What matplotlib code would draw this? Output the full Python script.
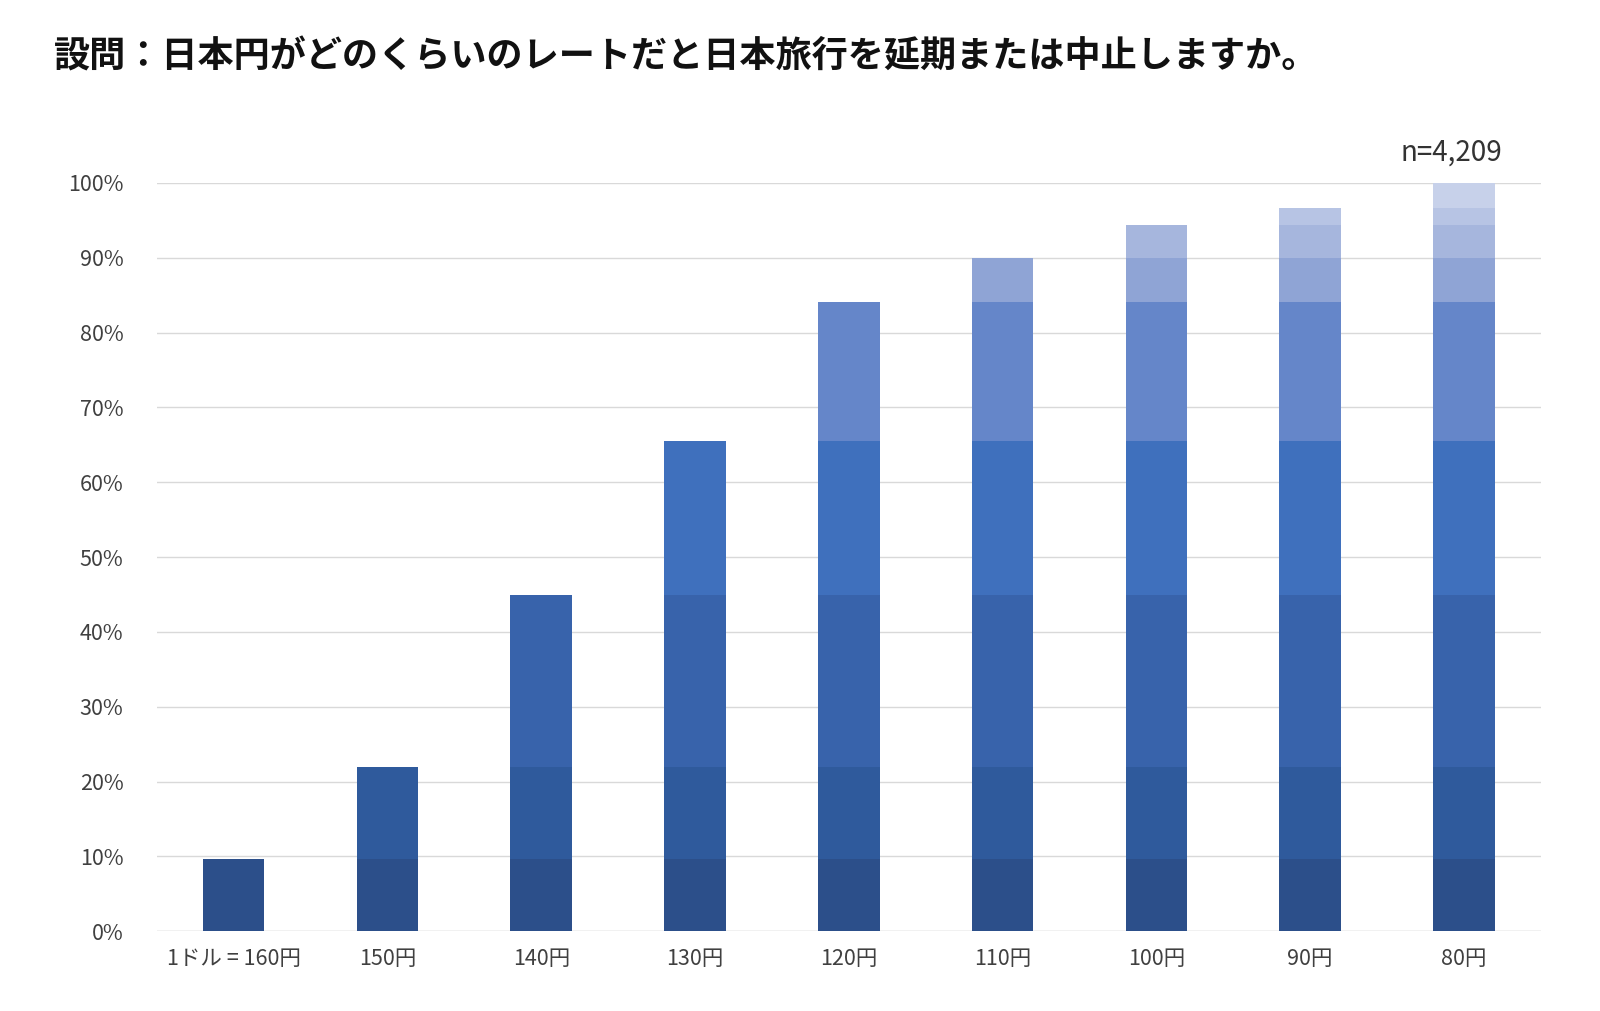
import matplotlib
matplotlib.use("Agg")
import matplotlib.pyplot as plt

plt.rcParams["font.family"] = ["Noto Sans CJK JP"]

categories = ["1ドル = 160円", "150円", "140円", "130円", "120円", "110円", "100円", "90円", "80円"]
# share of respondents who would postpone/cancel at each rate (increment per step, %)
increments = [9.7, 12.2, 23.0, 20.6, 18.6, 5.9, 4.4, 2.3, 3.3]
segment_colors = ["#2c4f8a", "#2f5a9c", "#3863ab", "#3f70bd", "#6586c9",
                  "#8fa4d5", "#a6b6dd", "#b7c4e4", "#c7d1ea"]

fig = plt.figure(figsize=(16, 10.11), dpi=100)
ax = fig.add_axes([0.098, 0.079, 0.865, 0.740])

for i in range(len(categories)):
    bottom = 0
    for j in range(i + 1):
        ax.bar(i, increments[j], bottom=bottom, width=0.4,
               color=segment_colors[j], zorder=3)
        bottom += increments[j]

ax.set_xlim(-0.5, len(categories) - 0.5)
ax.set_ylim(0, 100)
ax.set_yticks(range(0, 101, 10))
ax.set_yticklabels([f"{v}%" for v in range(0, 101, 10)])
ax.set_xticks(range(len(categories)))
ax.set_xticklabels(categories)
ax.tick_params(axis="both", length=0, labelsize=15.5, colors="#404040")
ax.tick_params(axis="y", pad=24)
ax.tick_params(axis="x", pad=12)
ax.grid(axis="y", color="#d9d9d9", linewidth=1, zorder=0)
for s in ax.spines.values():
    s.set_visible(False)
ax.axhline(0, color="#d9d9d9", linewidth=1, zorder=2)

ax.text(len(categories) - 1 + 0.25, 102, "n=4,209", ha="right", va="bottom",
        fontsize=20, color="#333333")

fig.text(0.034, 0.944, "設問：日本円がどのくらいのレートだと日本旅行を延期または中止しますか。",
         fontsize=26, fontweight="bold", va="center", color="#111111")

fig.savefig("out.png", dpi=100, facecolor="white")
